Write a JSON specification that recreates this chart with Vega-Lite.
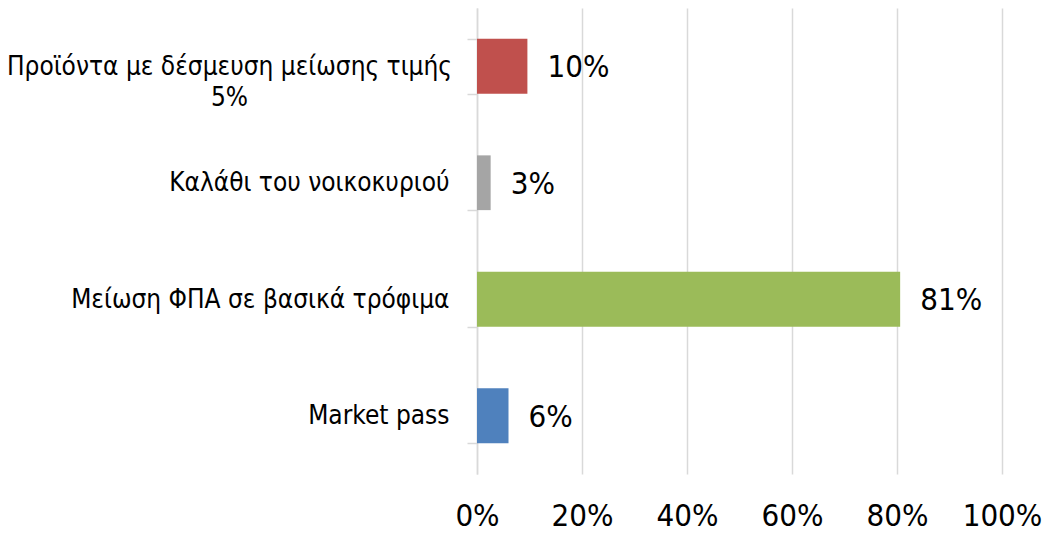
{
  "$schema": "https://vega.github.io/schema/vega-lite/v6.json",
  "width": 525,
  "height": 466,
  "autosize": {"type": "none"},
  "padding": {"left": 477, "top": 8, "right": 40, "bottom": 62},
  "config": {
    "view": {"stroke": null},
    "font": "DejaVu Sans Condensed"
  },
  "data": {
    "values": [
      {"category": "Προϊόντα με δέσμευση μείωσης τιμής 5%", "value": 0.096, "color": "#C0504D"},
      {"category": "Καλάθι του νοικοκυριού", "value": 0.026, "color": "#A5A5A5"},
      {"category": "Μείωση ΦΠΑ σε βασικά τρόφιμα", "value": 0.806, "color": "#9BBB59"},
      {"category": "Market pass", "value": 0.06, "color": "#4F81BD"}
    ]
  },
  "encoding": {
    "y": {
      "field": "category",
      "type": "nominal",
      "sort": null,
      "scale": {"paddingInner": 0.53, "paddingOuter": 0.265},
      "axis": {
        "title": null,
        "tickBand": "extent",
        "domainColor": "#D9D9D9",
        "domainWidth": 1.5,
        "tickColor": "#D9D9D9",
        "tickWidth": 1.5,
        "tickSize": 10,
        "labelFont": "DejaVu Sans Condensed",
        "labelFontSize": 26,
        "labelColor": "#000000",
        "labelLimit": 0,
        "labelLineHeight": 31,
        "labelExpr": "datum.value == 'Προϊόντα με δέσμευση μείωσης τιμής 5%' ? ['Προϊόντα με δέσμευση μείωσης τιμής', '5%'] : datum.label",
        "labelAlign": {"condition": {"test": "datum.value == 'Προϊόντα με δέσμευση μείωσης τιμής 5%'", "value": "center"}, "value": "right"},
        "labelPadding": {"condition": {"test": "datum.value == 'Προϊόντα με δέσμευση μείωσης τιμής 5%'", "value": 238}, "value": 18},
        "grid": false
      }
    },
    "x": {
      "field": "value",
      "type": "quantitative",
      "scale": {"domain": [0, 1], "nice": false},
      "axis": {
        "title": null,
        "format": ".0%",
        "values": [0, 0.2, 0.4, 0.6, 0.8, 1],
        "grid": true,
        "gridColor": "#D9D9D9",
        "gridWidth": 1.5,
        "domain": false,
        "ticks": false,
        "labelFont": "DejaVu Sans Condensed",
        "labelFontSize": 31,
        "labelColor": "#000000",
        "labelPadding": 27,
        "labelFlush": false
      }
    }
  },
  "layer": [
    {
      "mark": {"type": "bar"},
      "encoding": {
        "color": {"field": "color", "type": "nominal", "scale": null, "legend": null}
      }
    },
    {
      "mark": {"type": "text", "align": "left", "baseline": "middle", "dx": 20, "dy": 2, "fontSize": 31, "font": "DejaVu Sans Condensed", "color": "#000000"},
      "encoding": {
        "text": {"field": "value", "type": "quantitative", "format": ".0%"}
      }
    }
  ]
}
